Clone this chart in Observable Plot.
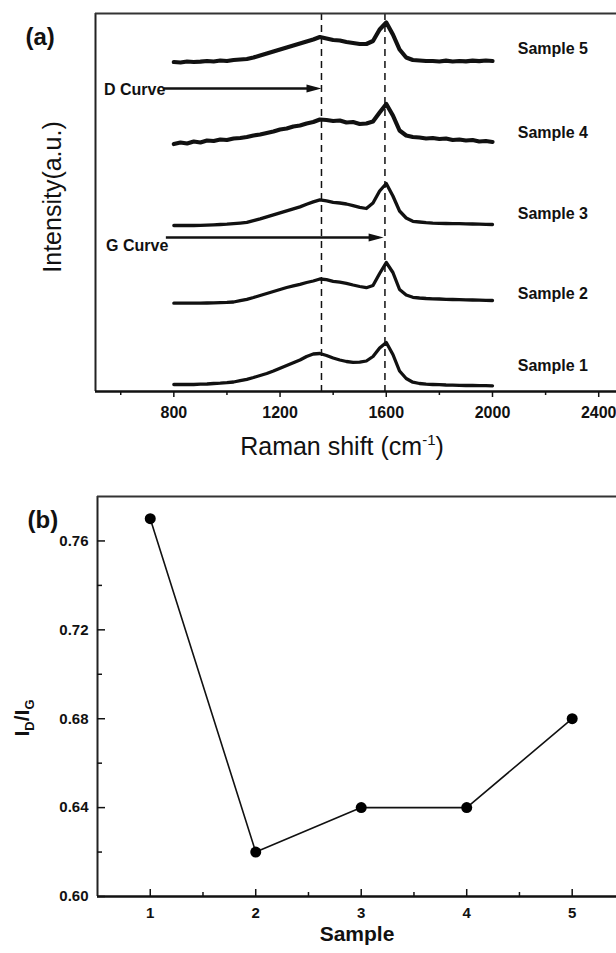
<!DOCTYPE html>
<html><head><meta charset="utf-8">
<script src="https://cdn.jsdelivr.net/npm/d3@7"></script>
<script src="https://cdn.jsdelivr.net/npm/@observablehq/plot@0.6"></script>
<style>
html,body{margin:0;padding:0;background:#fff;overflow:hidden}
#chart{width:616px;height:953px;background:#fff}
#chart svg{display:block}
</style></head><body><div id="chart"></div>
<script>
// ---------- Panel (a): Raman spectra ----------
const shift = [800,825,850,875,900,925,950,975,1000,1025,1050,1075,1100,1125,1150,1175,1200,1225,1250,1275,1300,1325,1350,1375,1400,1425,1450,1475,1500,1525,1550,1575,1600,1625,1650,1675,1700,1725,1750,1775,1800,1825,1850,1875,1900,1925,1950,1975,2000];
const sample1 = [7,7,7.2,7,7.3,7.5,8,8.3,8.8,9.5,10.8,12.2,14,16,18,20.5,23.3,26,28.8,31.5,35,37.5,38,36,33.5,31.5,30,29.2,29.3,30.5,35,43.5,49,37,20.5,13,9.3,8,7.3,7,6.8,6.5,6.4,6.2,6,6,5.8,5.8,5.7];
const sample2 = [88.3,88.3,88.4,88.3,88.4,88.5,88.7,88.9,89.1,89.5,90.8,92.2,94,96,98,100,102,104,105.6,107.2,109,110.5,112.5,111.8,110.2,109.3,108.2,106.5,105,103.8,106,118,129,119,102,96.5,94.2,93.5,93,92.7,92.5,92.2,92,91.8,91.7,91.5,91.3,91.1,91];
const sample3 = [166,166,166.1,166,166.2,166.4,166.7,167,167.3,167.8,168.4,169.1,170.8,172.6,174.6,176.6,178.6,180.6,182.6,184.6,187.2,189.6,191.6,190.6,189.2,188.5,187.5,185.8,184.2,183,188.5,200.5,208,195.5,180.5,173.5,170.2,169.5,168.8,168.3,168.1,168,167.9,167.8,167.7,167.5,167.3,167.1,167];
const sample4 = [247.5,249,248,250,249,251,250.5,252,251.5,253,253.5,254.5,256,257,258.5,260,262,263,265,266,268,269.5,272,271.5,270.5,271,269,269.5,267.5,268,270,279,287.5,276,261,256,254.5,254,253,253.5,252.5,253,251.5,252,251,251.5,250,250.5,249.5];
const sample5 = [329.5,329,330,329.5,329.8,330.5,330,331,330.5,331.5,332,332.5,334,336,338,340,342,344,346,348,350,352,354.5,353,351.5,351,349.5,348.5,347.5,347.5,350.5,362,369,357,342,334,331.5,331,330.5,330.5,330,330.8,330,330.5,330.2,330.8,330.3,331,330.5];
const sampleNames = ["Sample 1","Sample 2","Sample 3","Sample 4","Sample 5"];
const sampleLabelLevel = [26, 98, 178, 259, 343];
const ramanTicks = [800,1200,1600,2000,2400];
const ramanMinorTicks = [600,1000,1400,1800,2200];
const bandLines = [1356, 1595];            // D and G band positions (cm-1)
const noteNames = ["D Curve","G Curve"];
const noteLevel = [302, 146];
const arrowFrom = [762, 770];
const arrowTo = [1356, 1590];
const arrowLevel = [303, 154];

// ---------- Panel (b): ID/IG ratio ----------
const samples = [1,2,3,4,5];
const ratio = [0.77,0.62,0.64,0.64,0.68];
const ratioTicks = [0.60,0.64,0.68,0.72,0.76];
const ratioMinorTicks = [0.62,0.66,0.70,0.74];
const sampleMinorTicks = [1.5,2.5,3.5,4.5];

const FONT = "'Liberation Sans', Arial, Helvetica, sans-serif";
const INK = "#111";

const series = [sample1, sample2, sample3, sample4, sample5];
const spectra = series.flatMap((arr, i) => arr.map((v, j) => ({shift: shift[j], intensity: v, sample: sampleNames[i], noisy: i >= 3})));
const notes = noteNames.map((n, i) => ({name: n, level: noteLevel[i], from: arrowFrom[i], to: arrowTo[i], arrowLevel: arrowLevel[i]}));

// Filled, elongated arrow head pointing right with its tip at the anchor
const arrowHead = {
  draw(context) {
    context.moveTo(0, 0);
    context.lineTo(-15, -4);
    context.lineTo(-15, 4);
    context.closePath();
  }
};

const xDomA = [505, 2467];
const yDomA = [0, 378];

const chartA = Plot.plot({
  width: 616, height: 470,
  marginTop: 13, marginBottom: 79, marginLeft: 95, marginRight: 0,
  style: {fontFamily: FONT, fontSize: "16px", fontWeight: "bold", color: INK, background: "#fff", overflow: "visible"},
  x: {domain: xDomA},
  y: {domain: yDomA, axis: null},
  marks: [
    Plot.ruleX(bandLines, {stroke: INK, strokeWidth: 1.5, strokeDasharray: "7,5"}),
    Plot.line(spectra.filter(d => !d.noisy), {x: "shift", y: "intensity", z: "sample", stroke: INK, strokeWidth: 3.3, strokeLinejoin: "round", strokeLinecap: "round"}),
    Plot.line(spectra.filter(d => d.noisy), {x: "shift", y: "intensity", z: "sample", stroke: INK, strokeWidth: 4.2, strokeLinejoin: "round", strokeLinecap: "round"}),
    Plot.ruleX([xDomA[0]], {stroke: "#222", strokeWidth: 2}),
    Plot.ruleY([yDomA[1]], {stroke: "#333", strokeWidth: 2}),
    Plot.ruleY([yDomA[0]], {stroke: INK, strokeWidth: 2.5}),
    Plot.axisX({ticks: ramanMinorTicks, tickSize: 4, strokeWidth: 1.5, tickFormat: () => "", label: null}),
    Plot.axisX({ticks: ramanTicks, tickSize: 6, strokeWidth: 1.5, tickPadding: 9, label: null, fontSize: 16, fontWeight: "bold", tickFormat: d => String(d)}),
    Plot.text(sampleNames, {x: 2095, y: (d, i) => sampleLabelLevel[i], text: d => d, textAnchor: "start", fontSize: 16, fontWeight: "bold", fill: INK}),
    Plot.link(notes, {x1: "from", x2: d => d.to - 20, y1: "arrowLevel", y2: "arrowLevel", stroke: INK, strokeWidth: 2.3}),
    Plot.dot(notes, {x: "to", y: "arrowLevel", symbol: arrowHead, r: 5, fill: INK, stroke: "none"}),
    Plot.text(notes, {x: d => d.from - 225, y: "level", text: "name", textAnchor: "start", fontSize: 16, fontWeight: "bold", fill: INK}),
    Plot.text(["(a)"], {frameAnchor: "top-left", dx: -70, dy: 14, fontSize: 24, fontWeight: "bold", fill: INK})
  ]
});

{
  const s = d3.select(chartA);
  const t = s.append("text").attr("x", 342).attr("y", 455).attr("text-anchor", "middle")
    .attr("font-size", 25).attr("font-weight", "normal").attr("fill", INK).attr("font-family", FONT);
  t.append("tspan").text("Raman shift (cm");
  t.append("tspan").attr("dy", -10).attr("font-size", 15).text("-1");
  t.append("tspan").attr("dy", 10).text(")");
  s.append("text").attr("transform", "translate(61,197) rotate(-90)").attr("text-anchor", "middle")
    .attr("font-size", 25).attr("font-weight", "normal").attr("fill", INK).attr("font-family", FONT)
    .text("Intensity(a.u.)");
}

const xDomB = [0.5, 5.42];
const yDomB = [0.60, 0.78];
const hB = 483, mtB = 26, mbB = 57, mlB = 97;
const yPerPx = (yDomB[1] - yDomB[0]) / (hB - mtB - mbB);
const xPerPx = (xDomB[1] - xDomB[0]) / (616 - mlB);
const ratioRows = samples.map((s, i) => ({sample: s, ratio: ratio[i]}));

const chartB = Plot.plot({
  width: 616, height: hB,
  marginTop: mtB, marginBottom: mbB, marginLeft: mlB, marginRight: 0,
  style: {fontFamily: FONT, fontSize: "15px", fontWeight: "bold", color: INK, background: "#fff", overflow: "visible"},
  x: {domain: xDomB},
  y: {domain: yDomB},
  marks: [
    Plot.ruleX([xDomB[0]], {stroke: "#222", strokeWidth: 2}),
    Plot.ruleY([yDomB[1]], {stroke: "#333", strokeWidth: 2}),
    Plot.ruleY([yDomB[0]], {stroke: INK, strokeWidth: 2.5}),
    Plot.ruleX(samples, {x: d => d, y1: yDomB[0], y2: yDomB[0] + 7 * yPerPx, stroke: INK, strokeWidth: 1.5}),
    Plot.ruleX(sampleMinorTicks, {x: d => d, y1: yDomB[0], y2: yDomB[0] + 4 * yPerPx, stroke: INK, strokeWidth: 1.5}),
    Plot.ruleY(ratioTicks, {y: d => d, x1: xDomB[0], x2: xDomB[0] + 8 * xPerPx, stroke: INK, strokeWidth: 1.5}),
    Plot.ruleY(ratioMinorTicks, {y: d => d, x1: xDomB[0], x2: xDomB[0] + 5 * xPerPx, stroke: INK, strokeWidth: 1.5}),
    Plot.axisX({ticks: samples, tickSize: 0, tickPadding: 10.7, label: null, fontSize: 15, fontWeight: "bold", tickFormat: d => String(d)}),
    Plot.axisY({ticks: ratioTicks, tickSize: 0, tickPadding: 9, label: null, fontSize: 15, fontWeight: "bold", tickFormat: d3.format(".2f")}),
    Plot.line(ratioRows, {x: "sample", y: "ratio", stroke: INK, strokeWidth: 1.6}),
    Plot.dot(ratioRows, {x: "sample", y: "ratio", r: 5.5, fill: "#000", stroke: "none"}),
    Plot.text(["(b)"], {frameAnchor: "top-left", dx: -70, dy: 14, fontSize: 24, fontWeight: "bold", fill: INK}),
    Plot.text(["Sample"], {frameAnchor: "bottom", dy: 44, fontSize: 21, fontWeight: "bold", fill: INK})
  ]
});

{
  const s = d3.select(chartB);
  const t = s.append("text").attr("transform", "translate(29,248) rotate(-90)").attr("text-anchor", "middle")
    .attr("font-size", 21).attr("font-weight", "bold").attr("fill", INK).attr("font-family", FONT);
  t.append("tspan").text("I");
  t.append("tspan").attr("dy", 5).attr("font-size", 13).text("D");
  t.append("tspan").attr("dy", -5).text("/I");
  t.append("tspan").attr("dy", 5).attr("font-size", 13).text("G");
}

const root = document.getElementById("chart");
root.appendChild(chartA);
root.appendChild(chartB);
</script>
</body></html>
